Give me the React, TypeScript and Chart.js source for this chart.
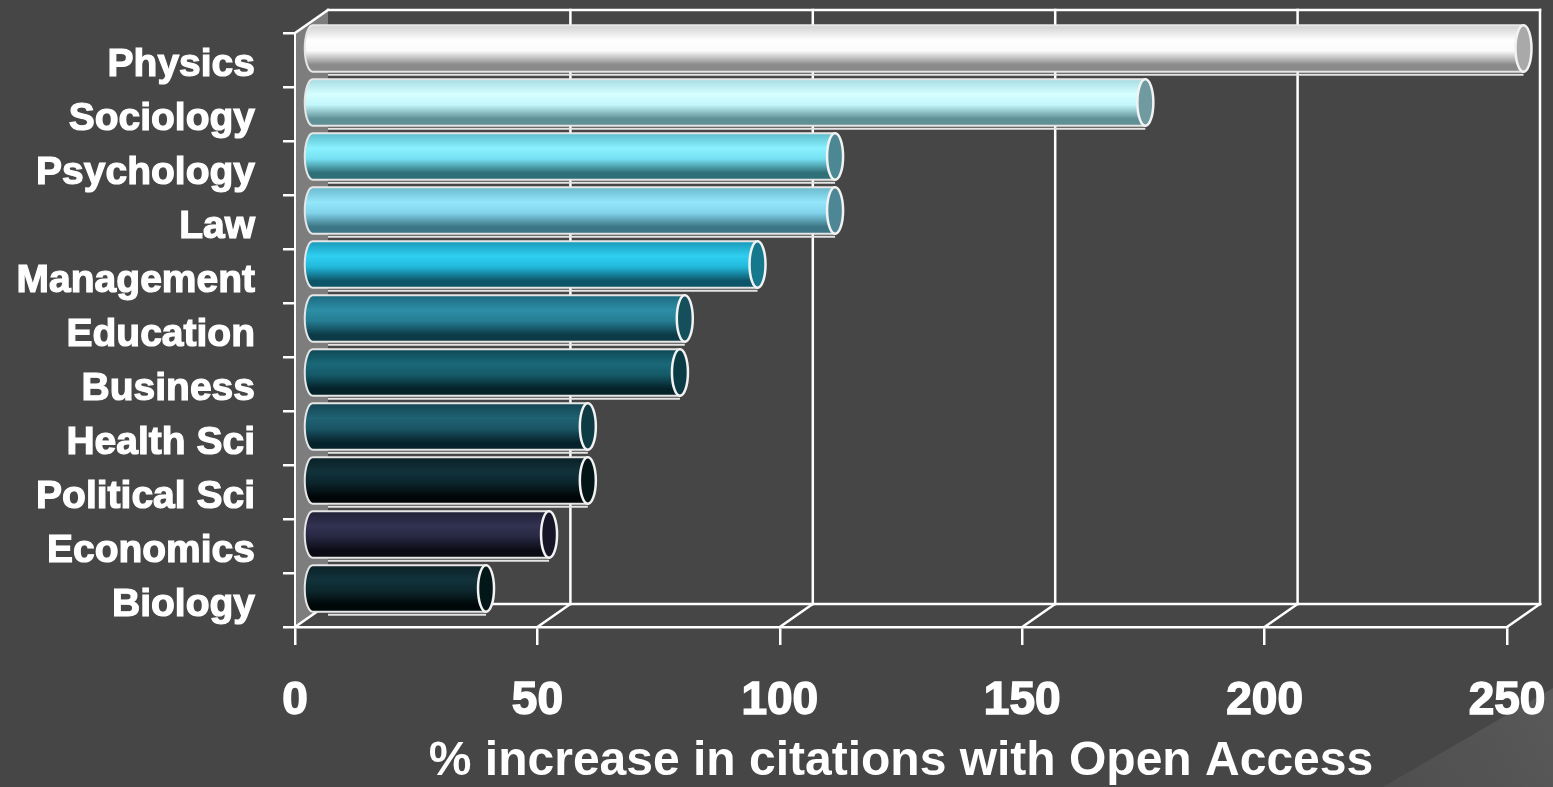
import React, { useEffect, useRef } from "react";
import { Chart, registerables } from "chart.js";

Chart.register(...registerables);

// ---- data ----
const categories = [
  "Physics",
  "Sociology",
  "Psychology",
  "Law",
  "Management",
  "Education",
  "Business",
  "Health Sci",
  "Political Sci",
  "Economics",
  "Biology",
];
const increasePct = [250, 172, 108, 108, 92, 77, 76, 57, 57, 49, 36];
const xMin = 0;
const xMax = 250;
const xStep = 50;
const axisTitle = "% increase in citations with Open Access";

// ---- styles ----
const barPalette = [
  { hi: "#ffffff", mid: "#fbfbfb", edge: "#d0d0d0", dark: "#8a8a8a", cap: "#a9a9a9" },
  { hi: "#d6ffff", mid: "#c2f7fc", edge: "#a6dce2", dark: "#5f9096", cap: "#6f9aa0" },
  { hi: "#8af2ff", mid: "#76e0f2", edge: "#5cbccc", dark: "#2f6f78", cap: "#4b8893" },
  { hi: "#94e6fb", mid: "#82d4ec", edge: "#6ab8cc", dark: "#3c7584", cap: "#4d8796" },
  { hi: "#2fcff2", mid: "#22b8da", edge: "#1a98b8", dark: "#0c5568", cap: "#15788c" },
  { hi: "#2c8ea6", mid: "#257e94", edge: "#1d6a7e", dark: "#0c3b47", cap: "#154f5c" },
  { hi: "#1a6878", mid: "#155a68", edge: "#0f4854", dark: "#042229", cap: "#0a3a44" },
  { hi: "#1f6272", mid: "#1a5464", edge: "#144554", dark: "#06222a", cap: "#0e3a44" },
  { hi: "#12323b", mid: "#0c252c", edge: "#0a2026", dark: "#000607", cap: "#021416" },
  { hi: "#323252", mid: "#272742", edge: "#202036", dark: "#0b0b14", cap: "#161628" },
  { hi: "#12323b", mid: "#0c272d", edge: "#0a2126", dark: "#000708", cap: "#031618" },
];
const BG = "#464646";
const WALL = "#7d7d7d";
const LINE = "#ffffff";
const FONT = "'Liberation Sans', Arial, Helvetica, sans-serif";
const DEPTH_X = 33;
const DEPTH_Y = -23;

function drawCylinder(
  ctx: CanvasRenderingContext2D,
  x0: number,
  x1: number,
  yc: number,
  h: number,
  c: { hi: string; mid: string; edge: string; dark: string; cap: string }
) {
  const ry = h / 2;
  const rx = 8;
  const top = yc - ry;
  const bot = yc + ry;
  const g = ctx.createLinearGradient(0, top, 0, bot);
  g.addColorStop(0, c.edge);
  g.addColorStop(0.32, c.hi);
  g.addColorStop(0.55, c.mid);
  g.addColorStop(0.85, c.dark);
  g.addColorStop(1, c.dark);
  ctx.save();
  ctx.beginPath();
  ctx.moveTo(x1, top);
  ctx.lineTo(x0, top);
  ctx.ellipse(x0, yc, rx, ry, 0, -Math.PI / 2, Math.PI / 2, true);
  ctx.lineTo(x1, bot);
  ctx.closePath();
  ctx.fillStyle = g;
  ctx.fill();
  ctx.lineWidth = 2;
  ctx.strokeStyle = "#e6e6e6";
  ctx.stroke();
  ctx.beginPath();
  ctx.ellipse(x1, yc, rx, ry, 0, 0, Math.PI * 2);
  ctx.fillStyle = c.cap;
  ctx.fill();
  ctx.lineWidth = 2.5;
  ctx.strokeStyle = "#f2f2f2";
  ctx.stroke();
  ctx.restore();
}

const frame3d = {
  id: "frame3d",
  beforeDraw(chart: any) {
    const { ctx, width, height } = chart;
    ctx.save();
    ctx.fillStyle = BG;
    ctx.fillRect(0, 0, width, height);
    // decorative lighter wedge (bottom-right)
    const g = ctx.createLinearGradient(1380, 787, 1553, 690);
    g.addColorStop(0, "#4e4e4e");
    g.addColorStop(1, "#595959");
    ctx.beginPath();
    ctx.moveTo(1383, height);
    ctx.lineTo(width, 688);
    ctx.lineTo(width, height);
    ctx.closePath();
    ctx.fillStyle = g;
    ctx.fill();
    ctx.restore();
  },
  beforeDatasetsDraw(chart: any) {
    const { ctx, chartArea } = chart;
    const xs = chart.scales.x;
    const L = chartArea.left;
    const R = chartArea.right;
    const T = chartArea.top;
    const B = chartArea.bottom;
    const dx = DEPTH_X;
    const dy = DEPTH_Y;
    ctx.save();
    // left side wall
    ctx.beginPath();
    ctx.moveTo(L, T);
    ctx.lineTo(L + dx, T + dy);
    ctx.lineTo(L + dx, B + dy);
    ctx.lineTo(L, B);
    ctx.closePath();
    ctx.fillStyle = WALL;
    ctx.fill();

    ctx.strokeStyle = LINE;
    ctx.lineWidth = 2.5;
    ctx.lineCap = "square";
    // back wall vertical gridlines
    for (let v = xMin + xStep; v <= xMax; v += xStep) {
      const px = xs.getPixelForValue(v) + dx;
      ctx.beginPath();
      ctx.moveTo(px, T + dy);
      ctx.lineTo(px, B + dy);
      ctx.stroke();
    }
    // back wall top edge
    ctx.beginPath();
    ctx.moveTo(L + dx, T + dy);
    ctx.lineTo(R + dx, T + dy);
    ctx.stroke();
    // top-left diagonal
    ctx.beginPath();
    ctx.moveTo(L, T);
    ctx.lineTo(L + dx, T + dy);
    ctx.stroke();
    // floor back edge
    ctx.beginPath();
    ctx.moveTo(L + dx, B + dy);
    ctx.lineTo(R + dx, B + dy);
    ctx.stroke();
    // floor diagonals
    for (let v = xMin; v <= xMax; v += xStep) {
      const px = xs.getPixelForValue(v);
      ctx.beginPath();
      ctx.moveTo(px, B);
      ctx.lineTo(px + dx, B + dy);
      ctx.stroke();
    }
    // front-left edge
    ctx.lineWidth = 2;
    ctx.beginPath();
    ctx.moveTo(L, T);
    ctx.lineTo(L, B);
    ctx.stroke();
    ctx.restore();
  },
  afterDatasetsDraw(chart: any) {
    const { ctx, chartArea } = chart;
    const meta = chart.getDatasetMeta(0);
    const ox = DEPTH_X / 2;
    const oy = DEPTH_Y / 2;
    const backLeft = chartArea.left + DEPTH_X;
    meta.data.forEach((el: any, i: number) => {
      const p = el.getProps(["x", "y", "base", "height"], true);
      const x0 = p.base + ox;
      const x1 = p.x + ox;
      const yc = p.y + oy;
      const h = p.height;
      // back-bottom edge line of the bar
      ctx.save();
      ctx.strokeStyle = "#e4e4e4";
      ctx.lineWidth = 2;
      ctx.beginPath();
      ctx.moveTo(backLeft, yc + h / 2 + 3);
      ctx.lineTo(x1, yc + h / 2 + 3);
      ctx.stroke();
      ctx.restore();
      drawCylinder(ctx, x0, x1, yc, h, barPalette[i % barPalette.length]);
    });
  },
};

export default function App() {
  const canvasRef = useRef<HTMLCanvasElement | null>(null);

  useEffect(() => {
    document.body.style.margin = "0";
    document.body.style.background = BG;
    const canvas = canvasRef.current;
    if (!canvas) return;
    const chart = new Chart(canvas, {
      type: "bar",
      data: {
        labels: categories,
        datasets: [
          {
            label: axisTitle,
            data: increasePct,
            backgroundColor: "rgba(0,0,0,0)",
            borderWidth: 0,
            barPercentage: 0.86,
            categoryPercentage: 1.0,
          },
        ],
      },
      options: {
        indexAxis: "y",
        responsive: false,
        animation: false,
        devicePixelRatio: 1,
        layout: { padding: { left: 0, right: 46, top: 33, bottom: 0 } },
        plugins: {
          legend: { display: false },
          tooltip: { enabled: false },
        },
        scales: {
          x: {
            min: xMin,
            max: xMax,
            ticks: {
              stepSize: xStep,
              color: "#ffffff",
              font: { family: FONT, size: 46, weight: "bold" },
              padding: 29,
              textStrokeColor: "#ffffff",
              textStrokeWidth: 1.5,
            },
            grid: {
              drawOnChartArea: false,
              color: LINE,
              lineWidth: 2.5,
              tickLength: 18,
            },
            border: { display: true, color: LINE, width: 2.5 },
            title: {
              display: true,
              text: axisTitle,
              color: "#ffffff",
              font: { family: FONT, size: 48, weight: "bold" },
              padding: { top: 0, bottom: -4 },
            },
            afterFit(scale: any) {
              scale.height = 160;
              scale.paddingLeft = 0;
              scale.paddingRight = 0;
            },
          },
          y: {
            ticks: {
              color: "#ffffff",
              font: { family: FONT, size: 39, weight: "bold" },
              padding: 28,
              labelOffset: 5,
              textStrokeColor: "#ffffff",
              textStrokeWidth: 1.2,
            },
            grid: {
              offset: true,
              drawOnChartArea: false,
              color: LINE,
              lineWidth: 2.5,
              tickLength: 12,
            },
            border: { display: false },
            afterFit(scale: any) {
              scale.width = 295;
              scale.paddingTop = 0;
              scale.paddingBottom = 0;
            },
          },
        },
      },
      plugins: [frame3d],
    });
    return () => chart.destroy();
  }, []);

  return (
    <div style={{ width: 1553, height: 787, background: BG }}>
      <canvas ref={canvasRef} width={1553} height={787} style={{ display: "block" }} />
    </div>
  );
}
